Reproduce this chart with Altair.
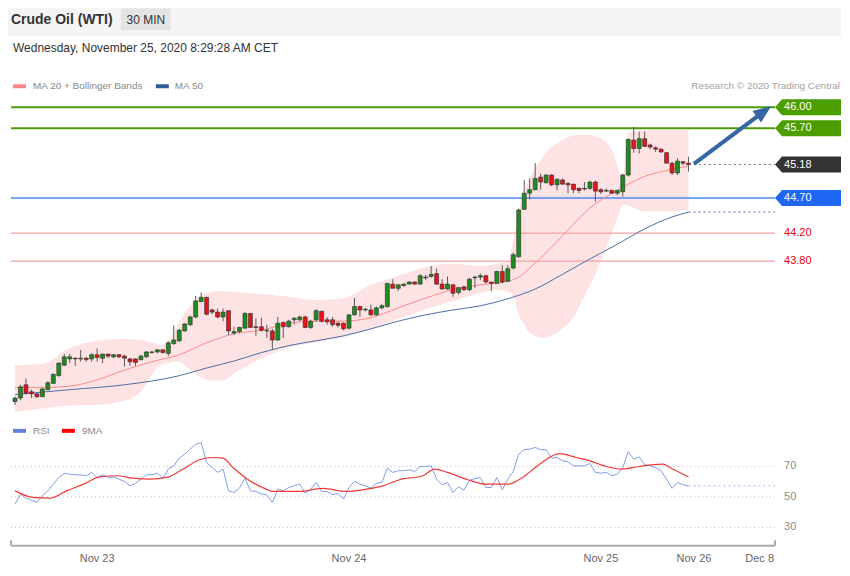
import altair as alt
import pandas as pd

FONT = "Liberation Sans"

# ---------------- candle data (30 min bars) ----------------
opens = [
    41.79, 41.84, 42.03, 41.93, 41.90, 41.86, 41.96, 42.05, 42.16, 42.31,
    42.40, 42.41, 42.40, 42.41, 42.40, 42.46, 42.41, 42.47, 42.43, 42.46,
    42.44, 42.40, 42.40, 42.39, 42.43, 42.49, 42.50, 42.53, 42.48, 42.62,
    42.66, 42.80, 42.89, 43.00, 43.22, 43.28, 43.10, 43.07, 43.00, 43.09,
    42.77, 42.79, 42.84, 43.05, 42.86, 42.86, 42.80, 42.80, 42.67, 42.92,
    42.86, 42.96, 42.96, 43.00, 42.85, 42.96, 43.08, 42.96, 42.96, 42.91,
    42.91, 42.84, 43.03, 43.15, 43.10, 43.10, 43.03, 43.13, 43.15, 43.47,
    43.41, 43.45, 43.47, 43.50, 43.47, 43.57, 43.58, 43.62, 43.47, 43.40,
    43.46, 43.35, 43.43, 43.39, 43.56, 43.57, 43.59, 43.50, 43.48, 43.65,
    43.51, 43.70, 43.86, 44.54, 44.77, 44.82, 45.00, 44.92, 45.03, 44.89,
    44.96, 44.91, 44.90, 44.84, 44.83, 44.84, 44.93, 44.82, 44.80, 44.81,
    44.77, 44.79, 45.03, 45.53, 45.41, 45.55, 45.46, 45.42, 45.40, 45.35,
    45.20, 45.06, 45.22, 45.20]
closes = [
    41.84, 42.00, 41.91, 41.90, 41.86, 41.97, 42.06, 42.18, 42.34, 42.43,
    42.43, 42.40, 42.41, 42.39, 42.46, 42.42, 42.47, 42.44, 42.46, 42.43,
    42.41, 42.36, 42.35, 42.44, 42.50, 42.50, 42.53, 42.49, 42.63, 42.67,
    42.81, 42.90, 43.00, 43.23, 43.28, 43.04, 43.07, 43.00, 43.07, 42.80,
    42.79, 42.85, 43.05, 42.85, 42.85, 42.81, 42.81, 42.67, 42.91, 42.86,
    42.94, 42.98, 43.00, 42.85, 42.94, 43.09, 42.94, 42.93, 42.89, 42.88,
    42.83, 43.03, 43.15, 43.10, 43.11, 43.03, 43.13, 43.16, 43.48, 43.41,
    43.46, 43.47, 43.50, 43.47, 43.59, 43.56, 43.61, 43.47, 43.40, 43.47,
    43.34, 43.42, 43.39, 43.54, 43.57, 43.59, 43.50, 43.48, 43.65, 43.50,
    43.69, 43.89, 44.53, 44.77, 44.82, 44.98, 44.93, 45.03, 44.89, 44.97,
    44.90, 44.89, 44.82, 44.81, 44.84, 44.93, 44.80, 44.79, 44.81, 44.77,
    44.81, 45.03, 45.54, 45.41, 45.55, 45.44, 45.43, 45.40, 45.36, 45.20,
    45.06, 45.23, 45.20, 45.18]
highs = [
    41.86, 42.03, 42.12, 41.96, 41.91, 41.98, 42.08, 42.19, 42.35, 42.47,
    42.47, 42.42, 42.53, 42.43, 42.48, 42.55, 42.47, 42.47, 42.47, 42.47,
    42.46, 42.41, 42.41, 42.46, 42.51, 42.51, 42.54, 42.54, 42.65, 42.88,
    42.83, 42.91, 43.02, 43.30, 43.35, 43.29, 43.12, 43.12, 43.12, 43.09,
    42.86, 42.86, 43.07, 43.05, 42.98, 42.99, 42.89, 42.83, 43.00, 42.94,
    42.96, 43.00, 43.02, 43.02, 42.96, 43.11, 43.09, 43.00, 43.00, 42.93,
    42.92, 43.04, 43.27, 43.16, 43.13, 43.18, 43.15, 43.19, 43.48, 43.54,
    43.47, 43.48, 43.51, 43.51, 43.61, 43.60, 43.73, 43.69, 43.54, 43.58,
    43.47, 43.43, 43.45, 43.56, 43.59, 43.62, 43.60, 43.50, 43.66, 43.74,
    43.74, 43.92, 44.55, 44.96, 44.98, 45.20, 45.05, 45.04, 45.04, 44.98,
    44.98, 44.93, 44.90, 44.85, 44.93, 44.95, 44.95, 44.84, 44.84, 44.82,
    44.82, 45.05, 45.55, 45.72, 45.65, 45.65, 45.48, 45.44, 45.41, 45.36,
    45.22, 45.27, 45.23, 45.29]
lows = [
    41.74, 41.81, 41.89, 41.84, 41.84, 41.86, 41.95, 42.04, 42.15, 42.30,
    42.34, 42.30, 42.36, 42.36, 42.36, 42.36, 42.34, 42.41, 42.41, 42.41,
    42.29, 42.30, 42.30, 42.38, 42.42, 42.48, 42.48, 42.48, 42.44, 42.60,
    42.64, 42.79, 42.87, 42.98, 43.21, 43.02, 43.04, 42.98, 42.94, 42.74,
    42.74, 42.77, 42.83, 42.84, 42.73, 42.79, 42.70, 42.53, 42.66, 42.70,
    42.85, 42.89, 42.94, 42.84, 42.83, 42.93, 42.92, 42.89, 42.86, 42.85,
    42.81, 42.82, 43.02, 43.00, 43.08, 43.02, 43.02, 43.11, 43.13, 43.41,
    43.37, 43.43, 43.47, 43.46, 43.46, 43.53, 43.56, 43.46, 43.39, 43.39,
    43.29, 43.32, 43.37, 43.37, 43.41, 43.53, 43.48, 43.37, 43.48, 43.48,
    43.50, 43.68, 43.85, 44.53, 44.68, 44.81, 44.82, 44.91, 44.87, 44.81,
    44.89, 44.77, 44.77, 44.77, 44.81, 44.82, 44.65, 44.76, 44.79, 44.76,
    44.74, 44.72, 45.01, 45.35, 45.34, 45.43, 45.40, 45.36, 45.35, 45.20,
    45.03, 45.03, 45.17, 45.08]

# ---------------- Bollinger bands / moving averages ----------------
band_idx = [0, 5, 10, 15, 20, 23, 25, 27, 28, 29,
            30, 32, 33, 35, 38, 40, 45, 50, 55, 60,
            65, 70, 75, 80, 85, 88, 90, 91, 92, 93,
            94, 95, 96, 97, 98, 100, 102, 103, 104, 106,
            108, 109, 110, 111, 112, 115, 120, 123]
band_upper = [42.31, 42.33, 42.56, 42.66, 42.69, 42.67, 42.64, 42.60, 42.67, 42.77,
              42.93, 43.16, 43.24, 43.34, 43.37, 43.36, 43.33, 43.29, 43.24, 43.27,
              43.46, 43.59, 43.71, 43.76, 43.73, 43.76, 43.79, 44.10, 44.50, 44.79,
              44.99, 45.13, 45.24, 45.36, 45.43, 45.53, 45.60, 45.61, 45.61, 45.59,
              45.49, 45.39, 45.17, 44.99, 45.63, 45.67, 45.67, 45.67]
band_lower = [41.64, 41.69, 41.73, 41.74, 41.80, 41.93, 42.17, 42.33, 42.34, 42.36,
              42.36, 42.24, 42.19, 42.10, 42.09, 42.19, 42.41, 42.56, 42.64, 42.71,
              42.83, 42.97, 43.11, 43.23, 43.34, 43.39, 43.36, 43.30, 43.03, 42.89,
              42.77, 42.73, 42.70, 42.70, 42.73, 42.83, 43.00, 43.14, 43.30, 43.61,
              44.00, 44.20, 44.41, 44.61, 44.59, 44.51, 44.51, 44.53]
ma20_idx = [0, 5, 10, 15, 20, 25, 30, 35, 40, 45, 50, 55, 60, 65, 70, 75, 80, 85, 90, 92,
            95, 100, 105, 110, 115, 120, 123]
ma20 = [41.99, 41.99, 42.01, 42.10, 42.24, 42.36, 42.46, 42.63, 42.76, 42.81,
        42.91, 42.94, 42.94, 42.99, 43.13, 43.27, 43.39, 43.46, 43.51, 43.57,
        43.77, 44.16, 44.56, 44.81, 45.01, 45.11, 45.16]
ma50_idx = [0, 10, 20, 30, 35, 40, 45, 50, 55, 60, 65, 70, 75, 80, 85, 90, 95, 100,
            105, 110, 115, 120, 123]
ma50 = [41.89, 41.96, 42.03, 42.16, 42.27, 42.37, 42.49, 42.59, 42.66, 42.73, 42.83,
        42.94, 43.03, 43.10, 43.16, 43.26, 43.40, 43.61, 43.83, 44.04, 44.26, 44.43, 44.50]

# ---------------- RSI ----------------
rsi_values = [
    45.3, 51.9, 49.2, 47.9, 46.4, 50.8, 54.0, 58.4, 62.8, 65.4,
    65.0, 64.5, 64.5, 63.9, 66.1, 62.8, 64.5, 62.8, 63.2, 61.7,
    60.2, 57.3, 58.9, 61.7, 64.5, 64.5, 65.6, 62.3, 68.3, 70.4,
    75.5, 78.1, 81.4, 84.6, 85.7, 72.6, 69.3, 66.1, 68.3, 54.0,
    52.9, 55.8, 62.3, 54.0, 53.6, 51.9, 51.4, 46.4, 55.1, 54.0,
    56.2, 57.3, 58.4, 52.3, 55.1, 59.5, 53.6, 53.6, 51.4, 52.3,
    48.6, 56.2, 60.2, 58.4, 57.3, 55.8, 58.9, 59.5, 68.9, 66.1,
    67.2, 67.3, 67.8, 66.7, 70.0, 70.0, 70.4, 61.7, 58.0, 59.5,
    52.9, 56.7, 54.5, 61.0, 62.0, 62.8, 56.2, 56.2, 62.8, 54.7,
    61.7, 66.7, 78.1, 81.0, 81.4, 82.5, 81.0, 81.0, 75.5, 75.9,
    73.7, 73.1, 70.4, 70.4, 70.4, 72.0, 66.1, 65.6, 66.1, 63.9,
    65.0, 69.3, 79.8, 74.8, 76.3, 71.1, 70.4, 69.3, 67.2, 61.7,
    55.6, 59.5, 58.0, 57.3]
rsi_ma_idx = [0, 3.3, 6.4, 9.4, 12.5, 15.5, 18.5, 21.6, 24.6, 27.7,
              30.7, 33.7, 36.2, 38, 39.8, 42.9, 45.9, 47.1, 52, 56.2,
              60.5, 64.2, 67.2, 70.2, 74.5, 76.6, 79, 82.7, 86, 90,
              92.7, 95.8, 99.4, 102.5, 105, 108, 110.9, 113.9, 118.3, 120.1, 123]
rsi_ma = [54.0, 49.7, 49.2, 54.0, 58.4, 63.2, 63.9, 62.3, 61.7, 62.8,
          68.3, 74.4, 75.9, 75.5, 69.3, 60.6, 55.1, 53.6, 53.6, 55.6,
          53.6, 55.1, 57.3, 61.3, 63.9, 68.3, 66.1, 61.3, 58.4, 58.4,
          62.8, 71.5, 78.5, 75.9, 73.7, 70.0, 68.3, 70.0, 71.5, 68.3, 63.2]
rsi_levels = [70, 50, 30]

# ---------------- levels / annotations ----------------
levels = [46.00, 45.70, 45.18, 44.70, 44.20, 43.80]
level_kinds = ["resistance", "resistance", "last", "pivot", "support", "support"]
level_labels = ["46.00", "45.70", "45.18", "44.70", "44.20", "43.80"]
arrow_x = [124.0, 136.8]
arrow_y = [45.19, 45.94]

x_ticks = [15, 61, 107, 124, 136]
x_tick_labels = ["Nov 23", "Nov 24", "Nov 25", "Nov 26", "Dec 8"]

# ---------------- layout constants ----------------
W = 834
PH = 412
RH = 126
LINE_X0, LINE_X1 = -0.73, 138.8
TAG_X, LABEL_X = 144.84, 140.46

xscale = alt.Scale(domain=[-1.277, 150.857], nice=False, zero=False, padding=0)
pscale = alt.Scale(domain=[41.5286, 47.4143], nice=False, zero=False, padding=0)
rscale = alt.Scale(domain=[18, 100.62], nice=False, zero=False, padding=0)

n = len(opens)
candles = pd.DataFrame({"i": list(range(n)), "open": opens, "high": highs,
                        "low": lows, "close": closes})
candles["dir"] = ["up" if c >= o else "down" for o, c in zip(opens, closes)]
band_df = pd.DataFrame({"i": band_idx, "upper": band_upper, "lower": band_lower})
ma20_df = pd.DataFrame({"i": ma20_idx, "v": ma20})
ma50_df = pd.DataFrame({"i": ma50_idx, "v": ma50})
level_df = pd.DataFrame({"level": levels, "kind": level_kinds, "label": level_labels})
rsi_df = pd.DataFrame({"i": list(range(n)), "v": rsi_values})
rsima_df = pd.DataFrame({"i": rsi_ma_idx, "v": rsi_ma})
rlev_df = pd.DataFrame({"lvl": rsi_levels})
tick_df = pd.DataFrame({"t": x_ticks, "lab": x_tick_labels})
ONE = pd.DataFrame({"k": [0]})


def X(f):
    return alt.X(f, type="quantitative", scale=xscale, axis=None)


def Xd(v):
    return alt.XDatum(v, type="quantitative", scale=xscale, axis=None)


def Y(f):
    return alt.Y(f, type="quantitative", scale=pscale, axis=None)


def Yd(v):
    return alt.YDatum(v, type="quantitative", scale=pscale, axis=None)


def RY(f):
    return alt.Y(f, type="quantitative", scale=rscale, axis=None)


def RYd(v):
    return alt.YDatum(v, type="quantitative", scale=rscale, axis=None)


def note(text, x, y, size=10, color="#8a8a8a", weight="normal", align="left"):
    return alt.Chart(ONE).mark_text(
        text=text, font=FONT, fontSize=size, color=color, fontWeight=weight,
        align=align, baseline="middle").encode(x=alt.value(x), y=alt.value(y))


def box(x, x2, y, y2, color):
    return alt.Chart(ONE).mark_rect(color=color).encode(
        x=alt.value(x), x2=alt.value(x2), y=alt.value(y), y2=alt.value(y2))


TAG_PATH = "M-1,0L-0.79,-0.2424L1,-0.2424L1,0.2424L-0.79,0.2424Z"
HEAD_PATH = "M0,-1L0.8,1L-0.8,1Z"

# ---------------- price panel ----------------
header = [
    box(0, W, 0, 28, "#f5f5f5"),
    box(113, 163, 0, 22, "#e4e4e4"),
    note("Crude Oil (WTI)", 3, 12, size=14, color="#333333", weight="bold"),
    note("30 MIN", 138, 12, size=12, color="#333333", align="center"),
    note("Wednesday, November 25, 2020 8:29:28 AM CET", 5, 40, size=12, color="#333333"),
    box(5, 18, 76, 80, "#ff8585"),
    note("MA 20 + Bollinger Bands", 25, 78),
    box(148, 161, 76, 80, "#2f5d9c"),
    note("MA 50", 167, 78),
    note("Research \u00a9 2020 Trading Central", 833, 78, color="#a3a3a3", align="right"),
]

band = alt.Chart(band_df).mark_area(color="#fde3e3", interpolate="monotone").encode(
    x=X("i"), y=Y("upper"), y2=alt.Y2("lower"))

res_lines = alt.Chart(level_df).transform_filter("datum.kind == 'resistance'").mark_rule(
    color="#4c9c0a", strokeWidth=2).encode(x=Xd(LINE_X0), x2=alt.X2Datum(LINE_X1), y=Y("level"))
piv_lines = alt.Chart(level_df).transform_filter("datum.kind == 'pivot'").mark_rule(
    color="#4d88f2", strokeWidth=1.5).encode(x=Xd(LINE_X0), x2=alt.X2Datum(LINE_X1), y=Y("level"))
sup_lines = alt.Chart(level_df).transform_filter("datum.kind == 'support'").mark_rule(
    color="#f4a3a3", strokeWidth=1.2).encode(x=Xd(LINE_X0), x2=alt.X2Datum(LINE_X1), y=Y("level"))
last_line = alt.Chart(level_df).transform_filter("datum.kind == 'last'").mark_rule(
    color="#777777", strokeWidth=1, strokeDash=[2, 3]).encode(
    x=Xd(124.0), x2=alt.X2Datum(LINE_X1), y=Y("level"))

ma20_line = alt.Chart(ma20_df).mark_line(color="#ff8a8a", strokeWidth=1, interpolate="monotone").encode(
    x=X("i"), y=Y("v"))
ma50_line = alt.Chart(ma50_df).mark_line(color="#4c6ea6", strokeWidth=1, interpolate="monotone").encode(
    x=X("i"), y=Y("v"))
ma50_ext = alt.Chart(ONE).mark_rule(color="#4c6ea6", strokeWidth=1, strokeDash=[2, 3]).encode(
    x=Xd(ma50_idx[-1]), x2=alt.X2Datum(LINE_X1), y=Yd(ma50[-1]))

wicks = alt.Chart(candles).mark_rule(color="#5a5a5a", strokeWidth=1).encode(
    x=X("i"), y=Y("low"), y2=alt.Y2("high"))
bodies = alt.Chart(candles).mark_bar(size=4, stroke="#2b2b2b", strokeWidth=0.6).encode(
    x=X("i"), y=Y("open"), y2=alt.Y2("close"),
    color=alt.Color("dir:N", scale=alt.Scale(domain=["up", "down"], range=["#1f8c1f", "#e8141c"]),
                    legend=None))

tags = alt.Chart(level_df).transform_filter("datum.kind != 'support'").mark_point(
    shape=TAG_PATH, size=4356, filled=True, opacity=1, strokeWidth=0).encode(
    x=Xd(TAG_X), y=Y("level"),
    fill=alt.Fill("kind:N", scale=alt.Scale(domain=["resistance", "last", "pivot"],
                                            range=["#4c9e00", "#333333", "#1f66f2"]), legend=None))
tag_text = alt.Chart(level_df).transform_filter("datum.kind != 'support'").mark_text(
    align="left", baseline="middle", font=FONT, fontSize=11, color="white").encode(
    x=Xd(LABEL_X), y=Y("level"), text="label:N")
sup_text = alt.Chart(level_df).transform_filter("datum.kind == 'support'").mark_text(
    align="left", baseline="middle", font=FONT, fontSize=11, color="#e8000b").encode(
    x=Xd(LABEL_X), y=Y("level"), text="label:N")

arrow = alt.Chart(ONE).mark_rule(color="#3566a6", strokeWidth=4).encode(
    x=Xd(arrow_x[0]), x2=alt.X2Datum(arrow_x[1]), y=Yd(arrow_y[0]), y2=alt.Y2Datum(arrow_y[1]))
head = alt.Chart(ONE).mark_point(shape=HEAD_PATH, size=324, angle=53.5, filled=True,
                                 opacity=1, color="#3566a6", strokeWidth=0).encode(
    x=Xd(arrow_x[1]), y=Yd(arrow_y[1]))

price = alt.layer(*header, band, res_lines, piv_lines, sup_lines, ma20_line, ma50_line,
                  ma50_ext, last_line, wicks, bodies, tags, tag_text, sup_text, arrow, head
                  ).resolve_scale(color="independent", fill="independent"
                  ).properties(width=W, height=PH)

# ---------------- RSI panel ----------------
rsi_legend = [
    box(5, 18, 9, 13, "#6284e0"),
    note("RSI", 25, 11),
    box(54, 67, 9, 13, "#ff0000"),
    note("9MA", 74, 11),
]
grid = alt.Chart(rlev_df).mark_rule(color="#bdbdbd", strokeWidth=1, strokeDash=[1, 3]).encode(
    x=Xd(LINE_X0), x2=alt.X2Datum(LINE_X1), y=RY("lvl"))
grid_lab = alt.Chart(rlev_df).mark_text(align="left", baseline="middle", font=FONT, fontSize=11,
                                        color="#8a8a8a").encode(
    x=Xd(LABEL_X), y=RY("lvl"), text="lvl:Q")
rsi_line = alt.Chart(rsi_df).mark_line(color="#7f9de8", strokeWidth=1).encode(x=X("i"), y=RY("v"))
rsi_ext = alt.Chart(ONE).mark_rule(color="#9fb5ee", strokeWidth=1, strokeDash=[2, 3]).encode(
    x=Xd(n - 1), x2=alt.X2Datum(LINE_X1), y=RYd(rsi_values[-1]))
rsima_line = alt.Chart(rsima_df).mark_line(color="#f03a3a", strokeWidth=1.2,
                                           interpolate="monotone").encode(x=X("i"), y=RY("v"))
axis_line = alt.Chart(ONE).mark_rule(color="#aaaaaa", strokeWidth=2).encode(
    x=Xd(LINE_X0), x2=alt.X2Datum(LINE_X1), y=RYd(18))
cap_l = alt.Chart(ONE).mark_rule(color="#aaaaaa", strokeWidth=2).encode(
    x=Xd(LINE_X0), y=RYd(18), y2=alt.Y2Datum(21.5))
cap_r = alt.Chart(ONE).mark_rule(color="#aaaaaa", strokeWidth=2).encode(
    x=Xd(LINE_X1), y=RYd(18), y2=alt.Y2Datum(21.5))
ticks = alt.Chart(tick_df).mark_text(align="center", baseline="middle", font=FONT, fontSize=11,
                                     color="#666666").encode(
    x=X("t"), y=alt.value(RH + 13), text="lab:N")

rsi = alt.layer(*rsi_legend, grid, grid_lab, rsi_line, rsi_ext, rsima_line, axis_line,
                cap_l, cap_r, ticks).properties(width=W, height=RH)

chart = alt.vconcat(price, rsi, spacing=0).resolve_scale(
    x="independent", y="independent").properties(padding=0).configure_view(strokeWidth=0)

chart.save("out.html", embed_options={"renderer": "svg", "actions": False})
